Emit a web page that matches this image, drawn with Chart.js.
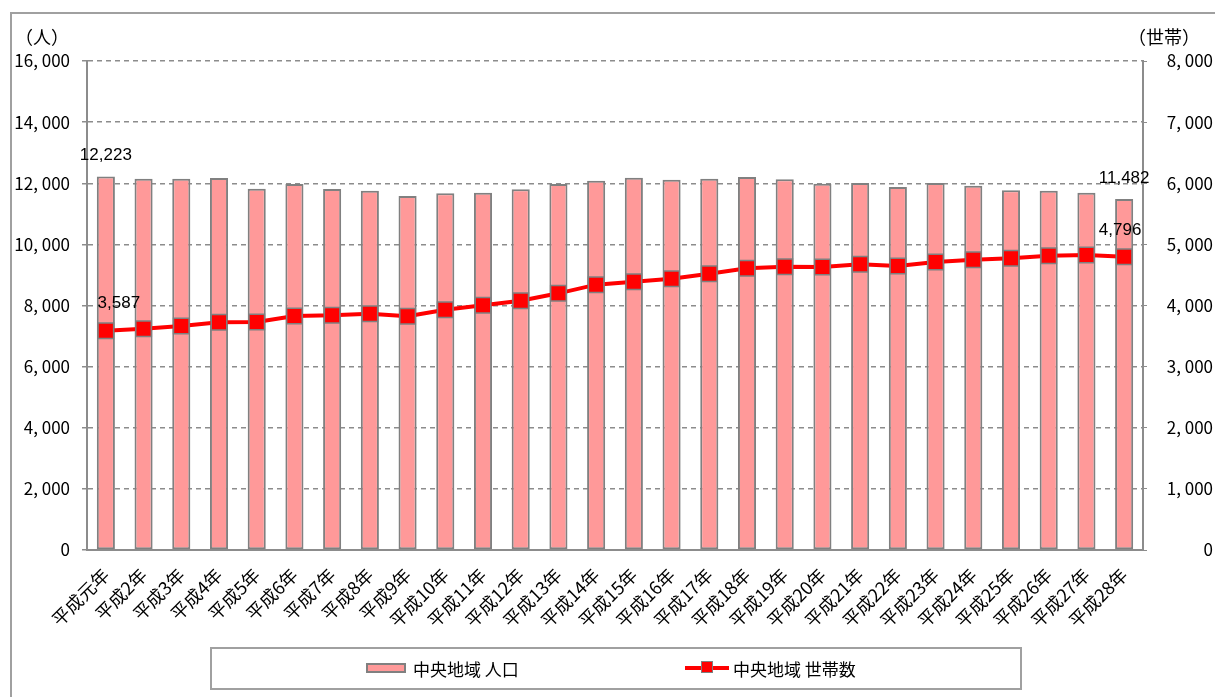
<!DOCTYPE html>
<html lang="ja">
<head>
    <meta charset="UTF-8">
    <title>中央地域 人口・世帯数の推移</title>
    <script src="https://cdn.jsdelivr.net/npm/chart.js@4.4.1/dist/chart.umd.min.js"></script>
    <style>
        html, body {
            margin: 0;
            padding: 0;
            width: 1215px;
            height: 697px;
            overflow: hidden;
            background: #fff;
            font-family: 'Noto Sans CJK JP', 'Noto Sans', sans-serif;
        }
        #frame {
            position: absolute;
            left: 10px;
            top: 12px;
            width: 1300px;
            height: 800px;
            border: 2px solid #a0a0a0;
        }
        #wrap {
            position: absolute;
            left: 0;
            top: 0;
            width: 1215px;
            height: 697px;
        }
        .unit {
            position: absolute;
            top: 23px;
            font-size: 18px;
            color: #000;
        }
        #legend {
            position: absolute;
            left: 210px;
            top: 647px;
            width: 808px;
            height: 39px;
            border: 2px solid #a0a0a0;
            font-size: 17px;
        }
        .item {
            position: absolute;
            top: 9px;
            display: flex;
            align-items: center;
            height: 20px;
        }
        .swatch-bar {
            width: 36px;
            height: 6px;
            background: #ff9999;
            border: 2px solid #808080;
            margin-right: 7px;
        }
        .swatch-line {
            position: relative;
            width: 44px;
            height: 4px;
            background: #ff0000;
            margin-right: 4px;
        }
        .swatch-line span {
            position: absolute;
            left: 16px;
            top: -5px;
            width: 10px;
            height: 10px;
            background: #ff0000;
            border: 1px solid #808080;
        }
    </style>
</head>
<body>
<div id="frame"></div>
<div id="wrap">
    <canvas id="chart" width="1215" height="697"></canvas>
</div>
<div class="unit" style="left: 15px;">（人）</div>
<div class="unit" style="left: 1128px;">（世帯）</div>
<div id="legend">
    <div class="item" style="left: 154px;"><div class="swatch-bar"></div>中央地域 人口</div>
    <div class="item" style="left: 473px;"><div class="swatch-line"><span></span></div>中央地域 世帯数</div>
</div>

<script>
    const YEARS = ['平成元年', '平成2年', '平成3年', '平成4年', '平成5年', '平成6年', '平成7年',
        '平成8年', '平成9年', '平成10年', '平成11年', '平成12年', '平成13年', '平成14年',
        '平成15年', '平成16年', '平成17年', '平成18年', '平成19年', '平成20年', '平成21年',
        '平成22年', '平成23年', '平成24年', '平成25年', '平成26年', '平成27年', '平成28年'];

    // 人口 (left axis)
    const POPULATION = [12223, 12149, 12149, 12172, 11822, 11975, 11811, 11756, 11583, 11670,
        11691, 11801, 11975, 12084, 12182, 12117, 12149, 12204, 12128, 11986,
        12008, 11877, 12008, 11921, 11769, 11756, 11691, 11482];

    // 世帯数 (right axis)
    const HOUSEHOLDS = [3587, 3621, 3665, 3725, 3730, 3828, 3839, 3866, 3823, 3932,
        4003, 4079, 4199, 4341, 4390, 4439, 4521, 4608, 4635, 4630,
        4674, 4646, 4712, 4750, 4772, 4815, 4826, 4796];

    const LABELLED = [0, YEARS.length - 1];

    const POP_TICKS = [0, 2000, 4000, 6000, 8000, 10000, 12000, 14000, 16000];
    const HH_TICKS = [0, 1000, 2000, 3000, 4000, 5000, 6000, 7000, 8000];

    const GRID = '#8c8c8c';
    const TICK_FONT = { family: "'Noto Sans CJK JP', sans-serif", size: 17 };

    // "16, 000" style thousands separator used on both value axes
    function axisNumber(v) {
        return v === 0 ? '0' : v.toLocaleString('en-US').replace(',', ', ');
    }

    // value labels on the first and last year only
    const valueLabels = {
        id: 'valueLabels',
        afterDatasetsDraw(chart) {
            const ctx = chart.ctx;
            ctx.save();
            ctx.font = "17px 'Liberation Sans', Arial, sans-serif";
            ctx.fillStyle = '#000';
            ctx.textAlign = 'center';
            ctx.textBaseline = 'middle';
            const barMeta = chart.getDatasetMeta(0);
            const lineMeta = chart.getDatasetMeta(1);
            LABELLED.forEach((i, n) => {
                let bar = barMeta.data[i];
                ctx.fillText(POPULATION[i].toLocaleString('en-US'), bar.x, bar.y - 21);
                let pt = lineMeta.data[i];
                let dx = n === 0 ? 13 : -4;
                ctx.fillText(HOUSEHOLDS[i].toLocaleString('en-US'), pt.x + dx, pt.y - 27);
            });
            ctx.restore();
        }
    };

    new Chart(document.getElementById('chart'), {
        type: 'bar',
        data: {
            labels: YEARS,
            datasets: [{
                label: '中央地域 人口',
                data: POPULATION,
                yAxisID: 'y',
                backgroundColor: '#ff9999',
                borderColor: '#808080',
                borderWidth: 2,
                borderSkipped: false,
                barPercentage: 0.48,
                categoryPercentage: 1,
                order: 1
            }, {
                type: 'line',
                label: '中央地域 世帯数',
                data: HOUSEHOLDS,
                yAxisID: 'y1',
                borderColor: '#ff0000',
                borderWidth: 4,
                pointStyle: 'rect',
                pointRadius: 11,
                pointBackgroundColor: '#ff0000',
                pointBorderColor: '#808080',
                pointBorderWidth: 1.5,
                tension: 0,
                order: 0
            }]
        },
        options: {
            responsive: false,
            animation: false,
            layout: { padding: { top: 61, right: 2, left: 0, bottom: 0 } },
            plugins: {
                legend: { display: false },
                tooltip: { enabled: false }
            },
            scales: {
                x: {
                    offset: true,
                    grid: { display: false, drawTicks: true, tickLength: 10 },
                    border: { color: GRID, width: 2 },
                    ticks: {
                        color: '#000',
                        font: { family: "'Noto Sans CJK JP', sans-serif", size: 18 },
                        minRotation: 45,
                        maxRotation: 45,
                        autoSkip: false,
                        padding: 4
                    },
                    afterFit(scale) { scale.height = 147; }
                },
                y: {
                    position: 'left',
                    min: 0,
                    max: 16000,
                    afterBuildTicks(scale) { scale.ticks = POP_TICKS.map(v => ({ value: v })); },
                    grid: { color: GRID, lineWidth: 1.5, tickLength: 5 },
                    border: { color: GRID, width: 2, dash: [5, 4] },
                    ticks: {
                        color: '#000',
                        font: TICK_FONT,
                        padding: 12,
                        callback: v => axisNumber(v)
                    },
                    afterFit(scale) { scale.width = 87; }
                },
                y1: {
                    position: 'right',
                    min: 0,
                    max: 8000,
                    afterBuildTicks(scale) { scale.ticks = HH_TICKS.map(v => ({ value: v })); },
                    grid: { drawOnChartArea: false, color: GRID, tickLength: 4 },
                    border: { color: GRID, width: 2 },
                    ticks: {
                        color: '#000',
                        font: TICK_FONT,
                        crossAlign: 'far',
                        callback: v => axisNumber(v)
                    },
                    afterFit(scale) { scale.width = 70; }
                }
            }
        },
        plugins: [valueLabels]
    });
</script>
</body>
</html>
